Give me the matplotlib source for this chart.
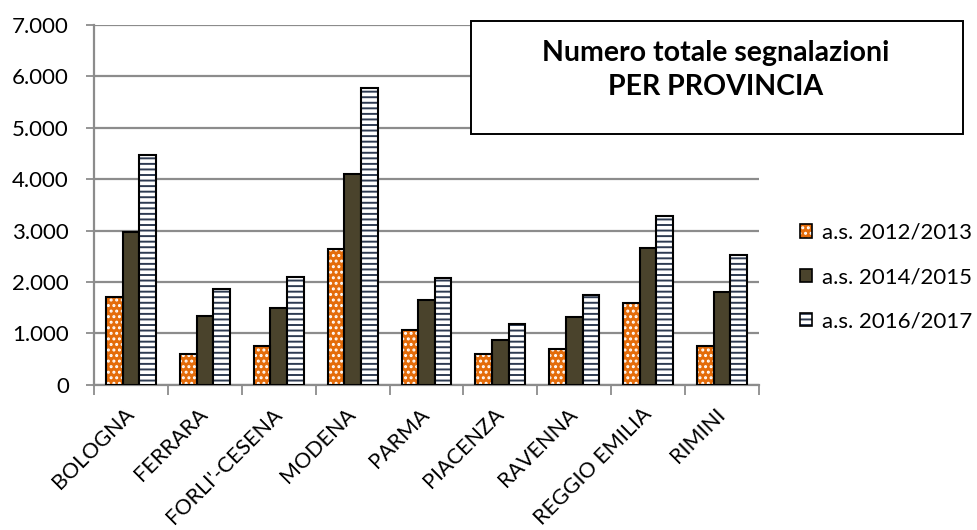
import matplotlib
matplotlib.use("Agg")
import matplotlib.pyplot as plt
import numpy as np
from matplotlib.patches import Patch

provinces = ["BOLOGNA", "FERRARA", "FORLI'-CESENA", "MODENA", "PARMA",
             "PIACENZA", "RAVENNA", "REGGIO EMILIA", "RIMINI"]
series_names = ["a.s. 2012/2013", "a.s. 2014/2015", "a.s. 2016/2017"]
v2012 = [1710, 600, 745, 2640, 1060, 595, 700, 1590, 750]
v2014 = [2965, 1335, 1495, 4100, 1645, 865, 1315, 2665, 1805]
v2016 = [4465, 1865, 2095, 5775, 2085, 1190, 1750, 3290, 2525]
yticks = [0, 1000, 2000, 3000, 4000, 5000, 6000, 7000]
ytick_labels = ["0", "1.000", "2.000", "3.000", "4.000", "5.000", "6.000", "7.000"]
title = "Numero totale segnalazioni\nPER PROVINCIA"

plt.rcParams['font.family'] = ['Lato', 'DejaVu Sans']
plt.rcParams['hatch.linewidth'] = 1.4

fig = plt.figure(figsize=(9.78, 5.30), dpi=100)
ax = fig.add_axes([0.0961, 0.274, 0.6800, 0.679])

x = np.arange(len(provinces))
w = 0.225
orange = '#E46C0A'
dark = '#4A432C'
navy = '#2E3B52'

# 2012/2013: orange with white dots
ax.bar(x - w, v2012, w, color=orange, edgecolor='white', hatch='...', linewidth=0, zorder=3)
ax.bar(x - w, v2012, w, fill=False, edgecolor='black', linewidth=1.5, zorder=4)
# 2014/2015: solid dark
ax.bar(x, v2014, w, color=dark, edgecolor='black', linewidth=1.5, zorder=3)
# 2016/2017: white with horizontal stripes
ax.bar(x + w, v2016, w, color='white', edgecolor=navy, hatch='---', linewidth=0, zorder=3)
ax.bar(x + w, v2016, w, fill=False, edgecolor='black', linewidth=1.5, zorder=4)

ax.set_xlim(-0.5, len(provinces) - 0.5)
ax.set_ylim(0, 7000)
ax.set_yticks(yticks)
ax.set_yticklabels(ytick_labels, fontsize=16)
ax.yaxis.grid(True, color='#8C8C8C', linewidth=1.6, zorder=0)
ax.set_axisbelow(True)

ax.set_xticks(np.arange(len(provinces) + 1) - 0.5)
ax.set_xticklabels([])
ax.set_xticks(x, minor=True)
ax.set_xticklabels(provinces, minor=True, rotation=45, ha='right', va='center',
                   rotation_mode='anchor', fontsize=15.5)
ax.tick_params(axis='x', which='minor', length=0, pad=19)
ax.tick_params(axis='x', which='major', length=7, color='#8C8C8C', width=1.3)
ax.tick_params(axis='y', length=6, color='#8C8C8C', width=1.3, pad=12)

for s in ['top', 'right']:
    ax.spines[s].set_visible(False)
ax.spines['left'].set_color('#8C8C8C')
ax.spines['left'].set_linewidth(1.6)
ax.spines['bottom'].set_color('#8C8C8C')
ax.spines['bottom'].set_linewidth(1.6)

# title box
box = plt.Rectangle((0.4816, 0.747), 0.503, 0.213, transform=fig.transFigure,
                    facecolor='white', edgecolor='black', linewidth=1.4, zorder=5)
fig.add_artist(box)
fig.text(0.732, 0.867, title, ha='center', va='center', fontsize=20.5, fontweight='bold',
         linespacing=1.38, zorder=6)

handles = [
    (Patch(facecolor=orange, edgecolor='white', hatch='...', linewidth=0),
     Patch(fill=False, edgecolor='black', linewidth=1.2)),
    Patch(facecolor=dark, edgecolor='black', linewidth=1.2),
    (Patch(facecolor='white', edgecolor=navy, hatch='---', linewidth=0),
     Patch(fill=False, edgecolor='black', linewidth=1.2)),
]
leg = fig.legend(handles, series_names, loc='center left', bbox_to_anchor=(0.818, 0.477),
                 frameon=False, fontsize=16, handlelength=0.55, handleheight=0.55,
                 handletextpad=0.45, labelspacing=1.1, borderpad=0, borderaxespad=0)

fig.savefig("out.png", dpi=100)
